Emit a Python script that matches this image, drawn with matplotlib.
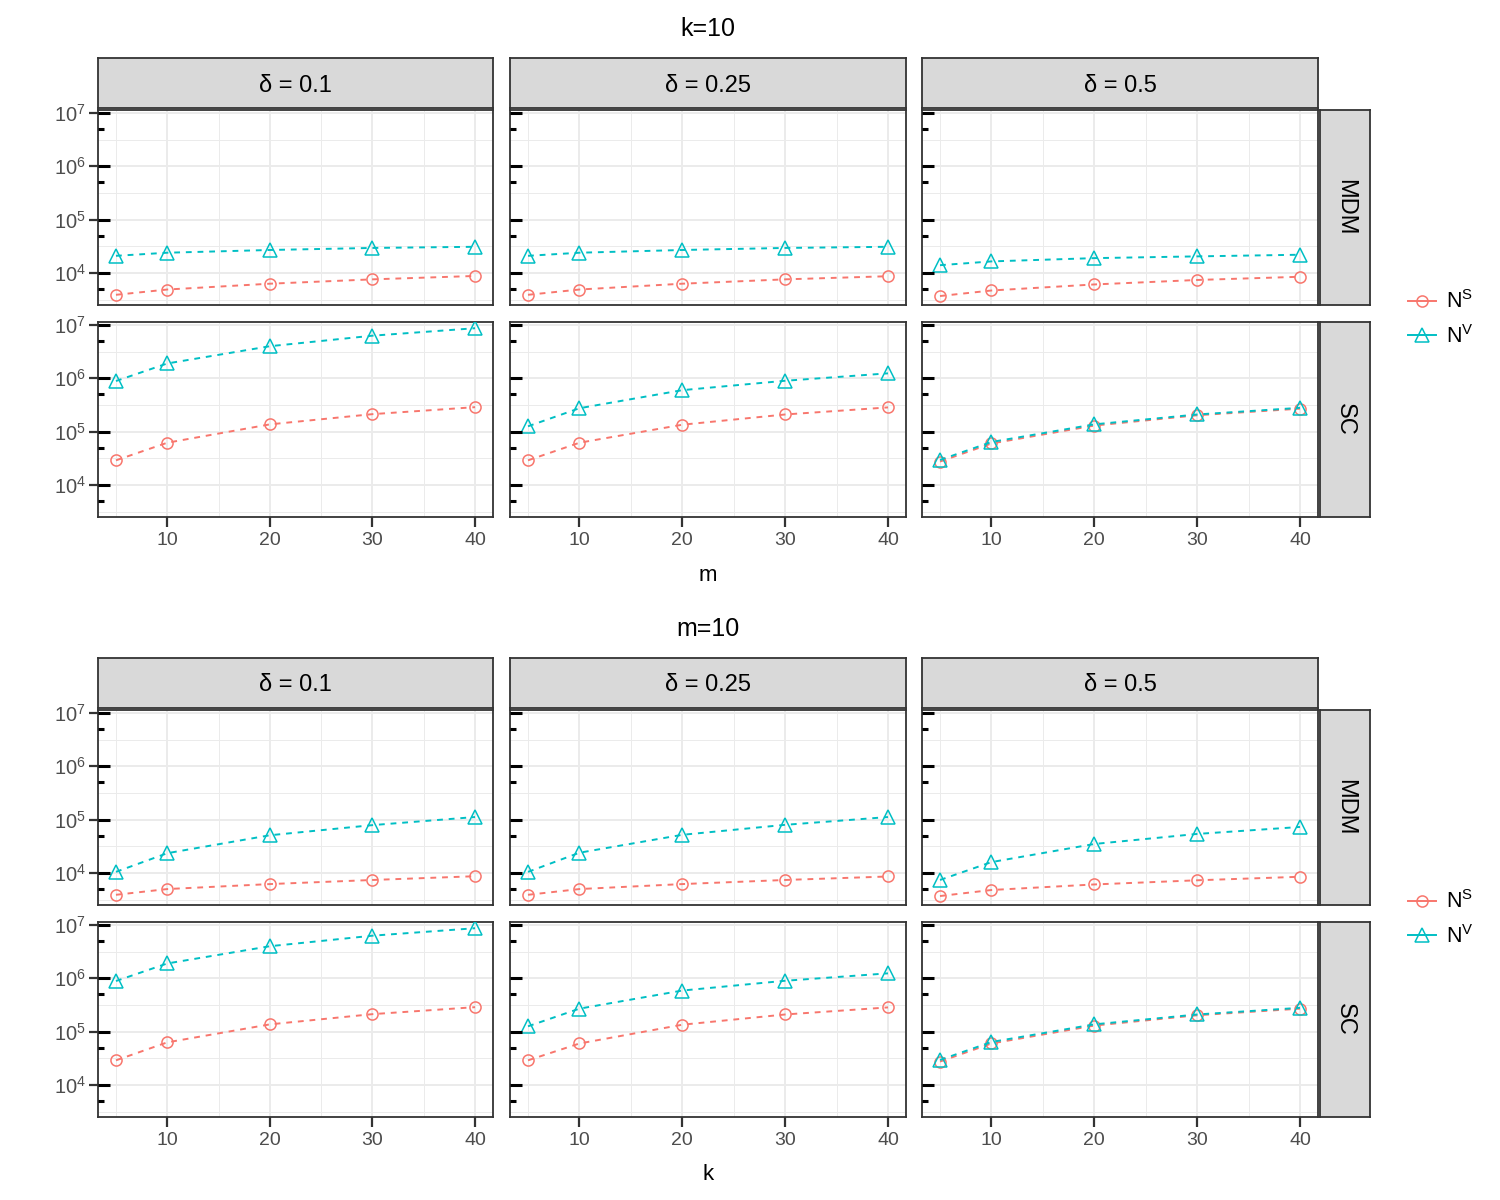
import numpy as np
import matplotlib
matplotlib.use("Agg")
import matplotlib.pyplot as plt
import matplotlib.transforms as mtransforms
from matplotlib.lines import Line2D

plt.rcParams['font.family'] = ['Liberation Sans', 'DejaVu Sans']
plt.rcParams['mathtext.fontset'] = 'custom'
plt.rcParams['mathtext.rm'] = 'Liberation Sans'
plt.rcParams['mathtext.it'] = 'Liberation Sans:italic'

# x values (m for the top block, k for the bottom block)
x_vals = [5, 10, 20, 30, 40]
deltas = ['0.1', '0.25', '0.5']
methods = ['MDM', 'SC']

# k=10 block, one list per delta
k10_mdm_ns = [[3900, 4900, 6300, 7600, 8800], [3900, 4900, 6300, 7600, 8700], [3700, 4700, 6100, 7400, 8500]]
k10_mdm_nv = [[21000, 24000, 27000, 29500, 31000], [21000, 24000, 27000, 29500, 31000], [14000, 16500, 19000, 20500, 22000]]
k10_sc_ns = [[29000, 62000, 137000, 213000, 288000], [29000, 62000, 135000, 210000, 285000], [27500, 60000, 130000, 203000, 270000]]
k10_sc_nv = [[890000, 1900000, 4000000, 6300000, 8700000], [126000, 275000, 600000, 900000, 1240000], [29500, 64000, 137000, 210000, 280000]]

# m=10 block
m10_mdm_ns = [[3900, 5000, 6200, 7400, 8700], [3900, 5000, 6200, 7400, 8600], [3700, 4800, 6100, 7300, 8500]]
m10_mdm_nv = [[10500, 23500, 51000, 79000, 112000], [10500, 24000, 52000, 80000, 112000], [7400, 16000, 35000, 54000, 73000]]
m10_sc_ns = [[29000, 63000, 137000, 213000, 288000], [29000, 60000, 135000, 210000, 285000], [27500, 60000, 130000, 203000, 270000]]
m10_sc_nv = [[890000, 1900000, 4000000, 6300000, 8700000], [126000, 270000, 590000, 900000, 1240000], [29500, 64000, 137000, 210000, 280000]]

RED = '#F8766D'
CYAN = '#00BFC4'
DARK = '#333333'
GRID = '#EBEBEB'

W, H = 1500, 1200
fig = plt.figure(figsize=(15, 12), dpi=100)


def px_axes(x0, y0, x1, y1):
    return fig.add_axes([x0 / W, 1 - y1 / H, (x1 - x0) / W, (y1 - y0) / H])


cols = [(98, 493), (510, 906), (922, 1318)]


def draw_block(top, title, xlabel, mdm_ns, mdm_nv, sc_ns, sc_nv):
    rows = [(top + 52, top + 247), (top + 264, top + 459)]
    data = {'MDM': (mdm_ns, mdm_nv), 'SC': (sc_ns, sc_nv)}
    fig.text(708 / W, 1 - (top - 29) / H, title, ha='center', va='center', fontsize=18)
    # column strips
    for j, (x0, x1) in enumerate(cols):
        s = px_axes(x0, top, x1, top + 50)
        s.set_facecolor('#D9D9D9')
        s.set_xticks([]); s.set_yticks([])
        for sp in s.spines.values():
            sp.set_color(DARK); sp.set_linewidth(1.3)
        s.text(0.5, 0.45, 'δ = ' + deltas[j], ha='center', va='center', fontsize=17,
               transform=s.transAxes)
    for i, (y0, y1) in enumerate(rows):
        meth = methods[i]
        s = px_axes(1320, y0, 1370, y1)
        s.set_facecolor('#D9D9D9')
        s.set_xticks([]); s.set_yticks([])
        for sp in s.spines.values():
            sp.set_color(DARK); sp.set_linewidth(1.3)
        s.text(0.5, 0.5, meth, ha='center', va='center', fontsize=17, rotation=270,
               transform=s.transAxes)
        for j, (x0, x1) in enumerate(cols):
            ax = px_axes(x0, y0, x1, y1)
            ax.set_yscale('log')
            ax.set_xlim(3.25, 41.75)
            ax.set_ylim(10 ** 3.40, 10 ** 7.056)
            # grid
            for v in [5, 15, 25, 35]:
                ax.axvline(v, color=GRID, lw=0.7, zorder=0)
            for v in [10, 20, 30, 40]:
                ax.axvline(v, color=GRID, lw=1.4, zorder=0)
            for e in [3.5, 4.5, 5.5, 6.5]:
                ax.axhline(10 ** e, color=GRID, lw=0.7, zorder=0)
            for e in [4, 5, 6, 7]:
                ax.axhline(10 ** e, color=GRID, lw=1.4, zorder=0)
            ns, nv = data[meth]
            ax.plot(x_vals, ns[j], color=RED, ls=(0, (3, 3)), lw=1.4, marker='o', ms=8,
                    mfc='none', mew=1.1, zorder=3)
            ax.plot(x_vals, nv[j], color=CYAN, ls=(0, (3, 3)), lw=1.4, marker='^', ms=10,
                    mfc='none', mew=1.1, zorder=4)
            # log ticks inside the panel
            tr = mtransforms.blended_transform_factory(ax.transAxes, ax.transData)
            wfrac = 1.0 / (x1 - x0)
            for e in [4, 5, 6, 7]:
                ax.plot([0, 12 * wfrac], [10 ** e, 10 ** e], color='black', lw=2.2,
                        transform=tr, clip_on=False, solid_capstyle='butt', zorder=5)
            for e in [3, 4, 5, 6]:
                ax.plot([0, 6 * wfrac], [5 * 10 ** e, 5 * 10 ** e], color='black', lw=2.2,
                        transform=tr, clip_on=False, solid_capstyle='butt', zorder=5)
            ax.minorticks_off()
            ax.set_yticks([10 ** e for e in [4, 5, 6, 7]])
            if j == 0:
                ax.set_yticklabels([r'$10^{%d}$' % e for e in [4, 5, 6, 7]])
                ax.tick_params(axis='y', length=6.5, width=1.6, color=DARK,
                               labelsize=14.5, labelcolor='#4D4D4D', pad=2)
            else:
                ax.tick_params(axis='y', length=0, labelleft=False)
            ax.set_xticks([10, 20, 30, 40])
            if i == 1:
                ax.tick_params(axis='x', length=7, width=1.6, color=DARK,
                               labelsize=14, labelcolor='#4D4D4D', pad=4)
            else:
                ax.tick_params(axis='x', length=0, labelbottom=False)
            for sp in ax.spines.values():
                sp.set_color(DARK); sp.set_linewidth(1.3)
    fig.text(708 / W, 1 - (top + 517) / H, xlabel, ha='center', va='center', fontsize=16)
    handles = [
        Line2D([], [], color=RED, lw=1.4, marker='o', ms=8, mfc='none', mew=1.1),
        Line2D([], [], color=CYAN, lw=1.4, marker='^', ms=10, mfc='none', mew=1.1),
    ]
    fig.legend(handles, [r'$\mathrm{N}^{\mathrm{S}}$', r'$\mathrm{N}^{\mathrm{V}}$'],
               loc='center left', bbox_to_anchor=(1408 / W, 1 - (top + 261) / H),
               frameon=False, fontsize=15.5, handlelength=1.3, handletextpad=0.45,
               labelspacing=0.55, borderpad=0, borderaxespad=0)


draw_block(58, 'k=10', 'm', k10_mdm_ns, k10_mdm_nv, k10_sc_ns, k10_sc_nv)
draw_block(658, 'm=10', 'k', m10_mdm_ns, m10_mdm_nv, m10_sc_ns, m10_sc_nv)

fig.savefig('out.png', dpi=100, facecolor='white')
